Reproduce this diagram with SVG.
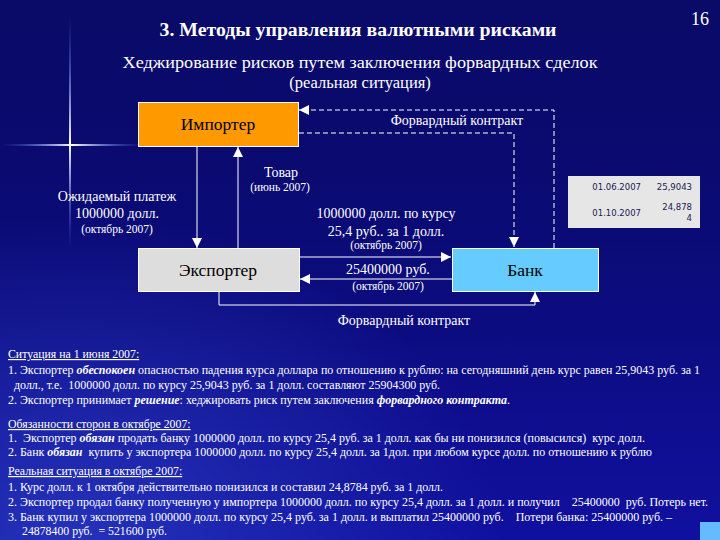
<svg xmlns="http://www.w3.org/2000/svg" width="720" height="540" viewBox="0 0 720 540">
<defs>
<linearGradient id="bg" x1="0" y1="0" x2="0" y2="1">
<stop offset="0" stop-color="#0a0a68"/>
<stop offset="0.3" stop-color="#0a0a70"/>
<stop offset="0.6" stop-color="#0c0c80"/>
<stop offset="1" stop-color="#1010a0"/>
</linearGradient>
<radialGradient id="glow" cx="0.1" cy="1" r="0.6">
<stop offset="0" stop-color="#2a3ac0" stop-opacity="0.8"/>
<stop offset="1" stop-color="#2a3ac0" stop-opacity="0"/>
</radialGradient>
<linearGradient id="hl" x1="0" y1="0" x2="1" y2="0">
<stop offset="0" stop-color="#3060ff" stop-opacity="0"/>
<stop offset="0.5" stop-color="#ffffff"/>
<stop offset="1" stop-color="#3060ff" stop-opacity="0"/>
</linearGradient>
<linearGradient id="vl" x1="0" y1="0" x2="0" y2="1">
<stop offset="0" stop-color="#3060ff" stop-opacity="0"/>
<stop offset="0.55" stop-color="#ffffff"/>
<stop offset="1" stop-color="#3060ff" stop-opacity="0"/>
</linearGradient>
<marker id="ah" viewBox="0 0 10 10" refX="10" refY="5" markerWidth="10" markerHeight="10" markerUnits="userSpaceOnUse" orient="auto">
<path d="M0,0 L10,5 L0,10 z" fill="#ffffff"/>
</marker>
</defs>
<style>
.t{fill:#ffffff}
.b{fill:#000000;font-size:17.5px;text-anchor:middle}
.lbl{font-size:14px;text-anchor:middle}
.sm{font-size:11.5px;text-anchor:middle}
.tx{font-size:11.8px;white-space:pre}
.bi{font-weight:bold;font-style:italic}
.u{text-decoration:underline}
.ln{stroke:#ffffff;stroke-width:1;fill:none}
.dl{stroke:#ffffff;stroke-width:1;fill:none;stroke-dasharray:5,3}
.box{stroke:#ffffff;stroke-width:1}
.tb{font-size:8.5px;fill:#1a1a50;text-anchor:end}
</style>
<rect width="720" height="540" fill="url(#bg)"/>
<rect width="720" height="540" fill="url(#glow)"/>
<rect x="0" y="144" width="145" height="2" fill="url(#hl)"/>
<rect x="69" y="15" width="2" height="235" fill="url(#vl)"/>
<rect x="700" y="522" width="20" height="18" fill="#66bbff"/>

<g font-family="'Liberation Serif', 'Times New Roman', serif">
<text class="t" x="700" y="25" font-size="18" text-anchor="middle">16</text>
<text class="t" x="358" y="36" font-size="18" font-weight="bold" text-anchor="middle" textLength="397" lengthAdjust="spacingAndGlyphs">3. Методы управления валютными рисками</text>
<text class="t" x="360" y="68" font-size="16.5" text-anchor="middle" textLength="475" lengthAdjust="spacingAndGlyphs">Хеджирование рисков путем заключения форвардных сделок</text>
<text class="t" x="360" y="88" font-size="16.5" text-anchor="middle">(реальная ситуация)</text>

<g id="connectors">
<line class="ln" x1="197" y1="146" x2="197" y2="248" marker-end="url(#ah)"/>
<line class="ln" x1="238" y1="248" x2="238" y2="147" marker-end="url(#ah)"/>
<polyline class="dl" points="554,248 554,110 299,110" marker-end="url(#ah)"/>
<polyline class="dl" points="299,133 514,133 514,247" marker-end="url(#ah)"/>
<line class="ln" x1="299" y1="257" x2="451" y2="257" marker-end="url(#ah)"/>
<line class="ln" x1="452" y1="279" x2="300" y2="279" marker-end="url(#ah)"/>
<polyline class="ln" points="219,291 219,305 535,305 535,292" marker-end="url(#ah)"/>
<text class="t lbl" x="457" y="125">Форвардный контракт</text>
<text class="t lbl" x="281" y="177">Товар</text>
<text class="t sm" x="280" y="191">(июнь 2007)</text>
<text class="t lbl" x="117" y="201">Ожидаемый платеж</text>
<text class="t lbl" x="117" y="218">1000000 долл.</text>
<text class="t sm" x="117" y="233">(октябрь 2007)</text>
<text class="t lbl" x="386" y="218">1000000 долл. по курсу</text>
<text class="t lbl" x="386" y="236">25,4 руб.. за 1 долл.</text>
<text class="t sm" x="386" y="249">(октябрь 2007)</text>
<text class="t lbl" x="388" y="274">25400000 руб.</text>
<text class="t sm" x="388" y="290">(октябрь 2007)</text>
<text class="t lbl" x="404" y="325">Форвардный контракт</text>
</g>

<g id="importer">
<rect class="box" x="138.5" y="102.5" width="160" height="44" fill="#ff9900"/>
<text class="b" x="218" y="130">Импортер</text>
</g>
<g id="exporter">
<rect class="box" x="138.5" y="248.5" width="161" height="43" fill="#dddddd"/>
<text class="b" x="218" y="276">Экспортер</text>
</g>
<g id="bank">
<rect class="box" x="452.5" y="248.5" width="146" height="43" fill="#66ccff"/>
<text class="b" x="525" y="276">Банк</text>
</g>
<g id="table" font-family="'DejaVu Sans', sans-serif">
<rect x="568" y="176" width="132" height="52" fill="#e6e6e6"/>
<text class="tb" x="641" y="190">01.06.2007</text>
<text class="tb" x="692" y="190">25,9043</text>
<text class="tb" x="692" y="210">24,878</text>
<text class="tb" x="692" y="221">4</text>
<text class="tb" x="641" y="216">01.10.2007</text>
</g>

<g id="notes">
<text class="t tx u" x="8" y="358">Ситуация на 1 июня 2007:</text>
<text class="t tx" x="8" y="374" textLength="692" lengthAdjust="spacingAndGlyphs">1. Экспортер <tspan class="bi">обеспокоен</tspan> опасностью падения курса доллара по отношению к рублю: на сегодняшний день курс равен 25,9043 руб. за 1</text>
<text class="t tx" x="14" y="389" textLength="426" lengthAdjust="spacingAndGlyphs">долл., т.е.  1000000 долл. по курсу 25,9043 руб. за 1 долл. составляют 25904300 руб.</text>
<text class="t tx" x="8" y="404" textLength="502" lengthAdjust="spacingAndGlyphs">2. Экспортер принимает <tspan class="bi">решение</tspan>: хеджировать риск путем заключения <tspan class="bi">форвардного контракта</tspan>.</text>
<text class="t tx u" x="8" y="428">Обязанности сторон в октябре 2007:</text>
<text class="t tx" x="8" y="442" textLength="637" lengthAdjust="spacingAndGlyphs">1.  Экспортер <tspan class="bi">обязан</tspan> продать банку 1000000 долл. по курсу 25,4 руб. за 1 долл. как бы ни понизился (повысился)  курс долл.</text>
<text class="t tx" x="8" y="456" textLength="644" lengthAdjust="spacingAndGlyphs">2. Банк <tspan class="bi">обязан</tspan>  купить у экспортера 1000000 долл. по курсу 25,4 долл. за 1дол. при любом курсе долл. по отношению к рублю</text>
<text class="t tx u" x="8" y="475">Реальная ситуация в октябре 2007:</text>
<text class="t tx" x="8" y="491" textLength="435" lengthAdjust="spacingAndGlyphs">1. Курс долл. к 1 октября действительно понизился и составил 24,8784 руб. за 1 долл.</text>
<text class="t tx" x="8" y="506" textLength="700" lengthAdjust="spacingAndGlyphs">2. Экспортер продал банку полученную у импортера 1000000 долл. по курсу 25,4 долл. за 1 долл. и получил    25400000  руб. Потерь нет.</text>
<text class="t tx" x="8" y="521" textLength="664" lengthAdjust="spacingAndGlyphs">3. Банк купил у экспортера 1000000 долл. по курсу 25,4 руб. за 1 долл. и выплатил 25400000 руб.    Потери банка: 25400000 руб. –</text>
<text class="t tx" x="22" y="535">24878400 руб.  = 521600 руб.</text>
</g>
</g>
</svg>
